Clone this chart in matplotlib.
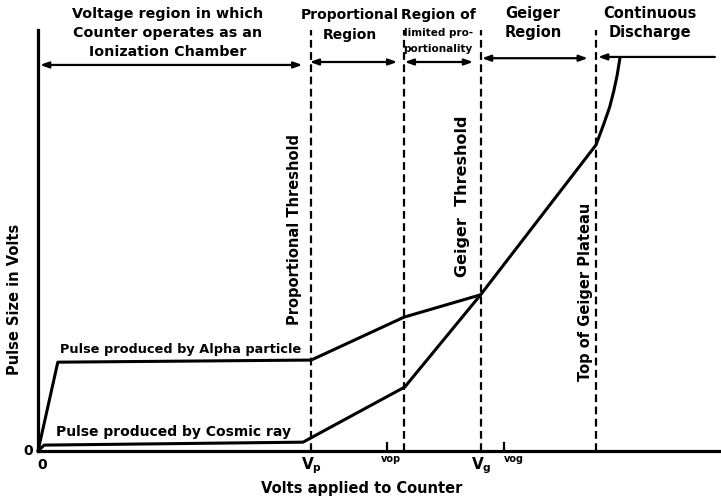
import matplotlib
matplotlib.use("Agg")
import matplotlib.pyplot as plt

# ---- data (arbitrary units: x = applied volts 0..100, y = pulse size 0..100) ----
alpha_x = [0.0, 2.9, 40.0, 53.6, 64.8]
alpha_y = [0.0, 21.1, 21.6, 31.8, 37.1]

cosmic_x = [0.0, 0.9, 38.8, 53.7, 64.8, 81.7, 82.8, 83.7, 84.3, 84.8, 85.2]
cosmic_y = [0.0, 1.4, 2.1, 15.2, 37.1, 72.7, 77.5, 81.7, 85.5, 89.3, 93.3]

threshold_x = [39.9, 53.6, 64.9, 81.7]       # dashed boundaries
small_tick_x = [51.1, 68.2]                   # Vop, Vog
tick_labels = ["V$_\\mathregular{p}$", "V$_\\mathregular{g}$"]
tick_label_x = [40.0, 64.9]
small_labels = ["vop", "vog"]
small_label_x = [51.6, 69.6]

region_names = ["Voltage region in which\nCounter operates as an\nIonization Chamber",
                "Proportional\nRegion",
                "Geiger\nRegion",
                "Continuous\nDischarge"]
region_center_x = [19.0, 45.6, 72.5, 89.6]

arrow_spans = [(0.3, 38.7, 91.7), (39.8, 52.6, 92.4), (53.7, 63.7, 92.4), (65.0, 80.5, 93.3)]
discharge_arrow = (82.0, 99.1, 93.6)

font = "DejaVu Sans"
fig = plt.figure(figsize=(7.21, 5.0), dpi=100)
ax = fig.add_axes([38 / 721, 49 / 500, 683 / 721, 421 / 500])
ax.set_xlim(0, 100)
ax.set_ylim(0, 100)
for s in ["top", "right"]:
    ax.spines[s].set_visible(False)
ax.spines["left"].set_linewidth(2.3)
ax.spines["bottom"].set_linewidth(2.3)
ax.set_xticks([])
ax.set_yticks([])

lw = 2.2
ax.plot(alpha_x, alpha_y, color="black", lw=lw, solid_joinstyle="round", solid_capstyle="round", clip_on=False)
ax.plot(cosmic_x, cosmic_y, color="black", lw=lw, solid_joinstyle="round", solid_capstyle="round", clip_on=False)

for xv in threshold_x:
    ax.plot([xv, xv], [0, 100], color="black", lw=1.6, ls=(0, (3.5, 2.0)), clip_on=False)
for xv in small_tick_x:
    ax.plot([xv, xv], [0, 1.9], color="black", lw=1.6, clip_on=False)

tk = dict(family=font, fontweight="bold", color="black")
for xv, lab in zip(tick_label_x, tick_labels):
    ax.text(xv, -3.4, lab, ha="center", va="center", fontsize=11, **tk)
for xv, lab in zip(small_label_x, small_labels):
    ax.text(xv, -2.0, lab, ha="center", va="center", fontsize=7, **tk)
ax.text(0.6, -3.4, "0", ha="center", va="center", fontsize=10, **tk)
ax.text(-1.5, 0.0, "0", ha="center", va="center", fontsize=10, **tk)

ax.text(47.4, -8.8, "Volts applied to Counter", ha="center", va="center", fontsize=10.5, **tk)
ax.text(-3.4, 35.9, "Pulse Size in Volts", ha="center", va="center", rotation=90, fontsize=10.5, **tk)

ax.text(20.9, 24.2, "Pulse produced by Alpha particle", ha="center", va="center", fontsize=9.3, **tk)
ax.text(19.8, 4.4, "Pulse produced by Cosmic ray", ha="center", va="center", fontsize=10, **tk)

ax.text(37.6, 52.5, "Proportional Threshold", ha="center", va="center", rotation=90, fontsize=10.5, **tk)
ax.text(62.2, 60.6, "Geiger  Threshold", ha="center", va="center", rotation=90, fontsize=11.5, **tk)
ax.text(80.1, 37.8, "Top of Geiger Plateau", ha="center", va="center", rotation=90, fontsize=10.5, **tk)

# top region labels
ax.text(region_center_x[0], 99.2, region_names[0], ha="center", va="center", fontsize=10.3,
        linespacing=1.45, clip_on=False, **tk)
ax.text(region_center_x[1], 101.2, region_names[1], ha="center", va="center", fontsize=10,
        linespacing=1.5, clip_on=False, **tk)
ax.text(region_center_x[2], 101.6, region_names[2], ha="center", va="center", fontsize=10.5,
        linespacing=1.3, clip_on=False, **tk)
ax.text(region_center_x[3], 101.6, region_names[3], ha="center", va="center", fontsize=10.5,
        linespacing=1.3, clip_on=False, **tk)
ax.text(58.6, 103.6, "Region of", ha="center", va="center", fontsize=10, clip_on=False, **tk)
ax.text(58.6, 99.4, "limited pro-", ha="center", va="center", fontsize=7.5, clip_on=False, **tk)
ax.text(58.6, 95.5, "portionality", ha="center", va="center", fontsize=7.5, clip_on=False, **tk)

for x0, x1, yv in arrow_spans:
    ax.annotate("", xy=(x0, yv), xytext=(x1, yv), annotation_clip=False,
                arrowprops=dict(arrowstyle="<|-|>,head_length=0.5,head_width=0.18",
                                color="black", lw=1.6, shrinkA=0, shrinkB=0))
x0, x1, yv = discharge_arrow
ax.annotate("", xy=(x0, yv), xytext=(x1, yv), annotation_clip=False,
            arrowprops=dict(arrowstyle="-|>,head_length=0.5,head_width=0.18",
                            color="black", lw=1.6, shrinkA=0, shrinkB=0))

fig.savefig("out.png", dpi=100)
